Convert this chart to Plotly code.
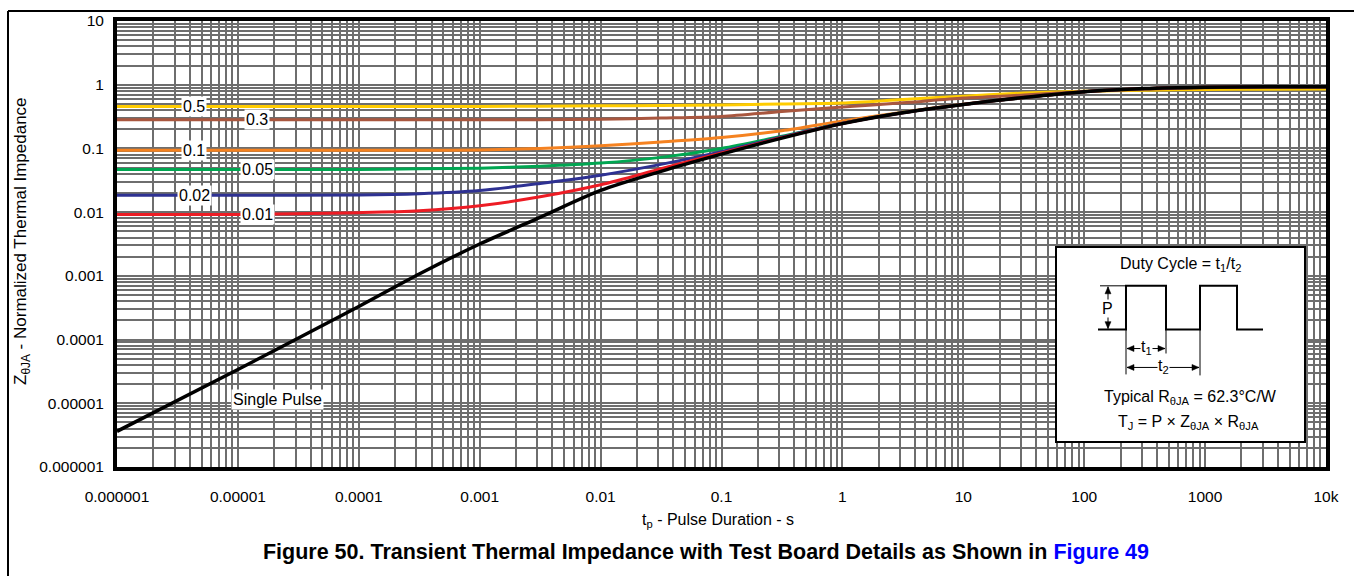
import math
import plotly.graph_objects as go

# pulse duration (s)
t = [1e-6, 1e-5, 1e-4, 3.16e-4, 1e-3, 3.16e-3, 1e-2, 3.16e-2, 0.1, 0.316,
     1, 3.16, 10, 31.6, 100, 316, 1000, 3160, 1e4]

# normalized thermal impedance per duty cycle
z_05 = [0.457, 0.457, 0.457, 0.457, 0.457, 0.46, 0.466, 0.472, 0.479, 0.50,
        0.515, 0.585, 0.66, 0.74, 0.79, 0.82, 0.84, 0.85, 0.857]
z_03 = [0.281, 0.281, 0.281, 0.281, 0.281, 0.282, 0.288, 0.30, 0.318, 0.38,
        0.447, 0.52, 0.617, 0.69, 0.785, 0.85, 0.90, 0.915, 0.92]
z_01 = [0.0933, 0.0933, 0.0933, 0.0933, 0.0944, 0.10, 0.11, 0.126, 0.148, 0.19,
        0.27, 0.37, 0.495, 0.63, 0.776, 0.87, 0.912, 0.927, 0.933]
z_005 = [0.0465, 0.0465, 0.0468, 0.0479, 0.049, 0.0525, 0.0589, 0.0724, 0.10, 0.155,
         0.248, 0.365, 0.49, 0.63, 0.776, 0.87, 0.912, 0.927, 0.933]
z_002 = [0.0184, 0.0184, 0.0186, 0.0195, 0.0219, 0.0282, 0.038, 0.0562, 0.0891, 0.151,
         0.248, 0.364, 0.49, 0.63, 0.776, 0.87, 0.912, 0.927, 0.933]
z_001 = [0.0092, 0.0092, 0.0098, 0.0105, 0.0126, 0.0174, 0.0269, 0.0479, 0.0851, 0.148,
         0.247, 0.364, 0.49, 0.63, 0.776, 0.87, 0.912, 0.927, 0.933]
z_single = [3.63e-6, 3.39e-5, 3.31e-4, 1.07e-3, 3.16e-3, 8.3e-3, 0.0219, 0.0437, 0.0813, 0.145,
            0.245, 0.363, 0.49, 0.63, 0.776, 0.87, 0.912, 0.927, 0.933]

series = [("0.5", z_05, "#FFCC00"), ("0.3", z_03, "#A9573F"), ("0.1", z_01, "#F58220"),
          ("0.05", z_005, "#00A651"), ("0.02", z_002, "#2E3192"), ("0.01", z_001, "#ED1C24")]
label_x = [-5.36, -4.84, -5.36, -4.84, -5.36, -4.84]  # log10 positions of the labels

x_ticks = [1e-6, 1e-5, 1e-4, 1e-3, 1e-2, 0.1, 1, 10, 100, 1000, 1e4]
x_text = ["0.000001", "0.00001", "0.0001", "0.001", "0.01", "0.1", "1", "10", "100", "1000", "10k"]
y_ticks = [1e-6, 1e-5, 1e-4, 1e-3, 1e-2, 0.1, 1, 10]
y_text = ["0.000001", "0.00001", "0.0001", "0.001", "0.01", "0.1", "1", "10"]

FONT = "Liberation Sans, Arial, sans-serif"
L, R, T, B = 117, 1326, 19, 467


def fx(px):
    return (px - L) / (R - L)


def fy(py):
    return (B - py) / (B - T)


def note(fig, x, y, txt, size, **kw):
    fig.add_annotation(x=fx(x), y=fy(y), xref="paper", yref="paper", text=txt, showarrow=False,
                       xanchor="center", yanchor="middle",
                       font=dict(size=size, color="black", family=FONT), **kw)


def line(fig, x0, y0, x1, y1, w=1):
    fig.add_shape(type="line", xref="paper", yref="paper", x0=fx(x0), y0=fy(y0), x1=fx(x1), y1=fy(y1),
                  line=dict(color="black", width=w))


def head(fig, x, y, dx, dy, ln=7, hw=3):
    # filled triangle, tip at (x, y), pointing along (dx, dy)
    bx, by = x - dx * ln, y - dy * ln
    px, py = -dy * hw, dx * hw
    pts = [(x, y), (bx + px, by + py), (bx - px, by - py)]
    path = "M " + " L ".join(f"{fx(a):.5f},{fy(b):.5f}" for a, b in pts) + " Z"
    fig.add_shape(type="path", xref="paper", yref="paper", path=path,
                  fillcolor="black", line=dict(color="black", width=0.5))


fig = go.Figure()
for name, z, col in series:
    fig.add_trace(go.Scatter(x=t, y=z, mode="lines", name=name,
                             line=dict(color=col, width=3, shape="spline", smoothing=0.8)))
fig.add_trace(go.Scatter(x=t, y=z_single, mode="lines", name="Single Pulse",
                         line=dict(color="black", width=3.5, shape="spline", smoothing=0.8)))

for (name, z, col), lx in zip(series, label_x):
    fig.add_annotation(x=lx, y=math.log10(z[0]), xref="x", yref="y", text=name, showarrow=False,
                       xanchor="center", yanchor="middle", bgcolor="white", borderpad=1,
                       font=dict(size=16, color="black", family=FONT))
fig.add_annotation(x=-4.67, y=-4.94, xref="x", yref="y", text="Single Pulse", showarrow=False,
                   xanchor="center", yanchor="middle", bgcolor="white", borderpad=1,
                   font=dict(size=16, color="black", family=FONT))

grid = dict(showgrid=True, gridcolor="#6e6e6e", gridwidth=1.6)
minor = dict(dtick="D1", showgrid=True, gridcolor="#6e6e6e", gridwidth=1.6)
fig.update_xaxes(type="log", range=[-6, 4], tickmode="array", tickvals=x_ticks, ticktext=x_text,
                 ticks="outside", ticklen=12, tickcolor="rgba(0,0,0,0)",
                 showline=True, linecolor="black", linewidth=4, mirror=True, zeroline=False,
                 minor=minor, tickfont=dict(size=15.5, color="black", family=FONT), **grid)
fig.update_yaxes(type="log", range=[-6, 1], tickmode="array", tickvals=y_ticks, ticktext=y_text,
                 ticks="outside", ticklen=6, tickcolor="rgba(0,0,0,0)",
                 showline=True, linecolor="black", linewidth=4, mirror=True, zeroline=False,
                 minor=minor, tickfont=dict(size=15.5, color="black", family=FONT), **grid)

# axis titles
note(fig, 718, 521, "t<sub>p</sub> - Pulse Duration - s", 16)
note(fig, 22, 240, "Z<sub>θJA</sub> - Normalized Thermal Impedance", 17, textangle=-90)

# outer frame (top and left edges)
line(fig, 8, 9, 1360, 9, 2)
line(fig, 8, 9, 8, 580, 2)

# inset: duty-cycle diagram
fig.add_shape(type="rect", xref="paper", yref="paper", x0=fx(1056), x1=fx(1305), y0=fy(442), y1=fy(246),
              line=dict(color="black", width=2), fillcolor="white", layer="above")
wave = [(1098, 329), (1126, 329), (1126, 285), (1166, 285), (1166, 329), (1200, 329),
        (1200, 285), (1237, 285), (1237, 329), (1263, 329)]
path = "M " + " L ".join(f"{fx(a):.5f},{fy(b):.5f}" for a, b in wave)
fig.add_shape(type="path", xref="paper", yref="paper", path=path, line=dict(color="black", width=2))
for seg in [(1100, 285, 1126, 285), (1126, 329, 1126, 374), (1166, 329, 1166, 353),
            (1200, 329, 1200, 375), (1108, 286, 1108, 328), (1127, 348, 1165, 348),
            (1127, 367, 1199, 367)]:
    line(fig, *seg)
head(fig, 1108, 286, 0, -1)
head(fig, 1108, 328, 0, 1)
head(fig, 1127, 348, -1, 0)
head(fig, 1165, 348, 1, 0)
head(fig, 1127, 367, -1, 0)
head(fig, 1199, 367, 1, 0)
note(fig, 1107, 308, "P", 16, bgcolor="white", borderpad=0)
note(fig, 1146, 347, "t<sub>1</sub>", 16, bgcolor="white", borderpad=0)
note(fig, 1163, 366, "t<sub>2</sub>", 16, bgcolor="white", borderpad=0)
note(fig, 1180, 264, "Duty Cycle = t<sub>1</sub>/t<sub>2</sub>", 16)
note(fig, 1190, 397, "Typical R<sub>θJA</sub> = 62.3°C/W", 16)
note(fig, 1188, 422, "T<sub>J</sub> = P × Z<sub>θJA</sub> × R<sub>θJA</sub>", 16)

fig.update_layout(
    width=1354, height=576, showlegend=False,
    paper_bgcolor="white", plot_bgcolor="white",
    margin=dict(l=L, r=1354 - R, t=T, b=576 - B),
    font=dict(family=FONT, color="black"),
    title=dict(text="<b>Figure 50. Transient Thermal Impedance with Test Board Details as Shown in "
                    "<span style='color:#0000FF'>Figure 49</span></b>",
               x=706 / 1354, xanchor="center", y=1 - 551 / 576, yanchor="middle",
               xref="container", yref="container", font=dict(size=21.5, color="black", family=FONT)),
)

fig.write_html("out.html", config={"displayModeBar": False},
               post_script="document.body.style.margin='0';")
